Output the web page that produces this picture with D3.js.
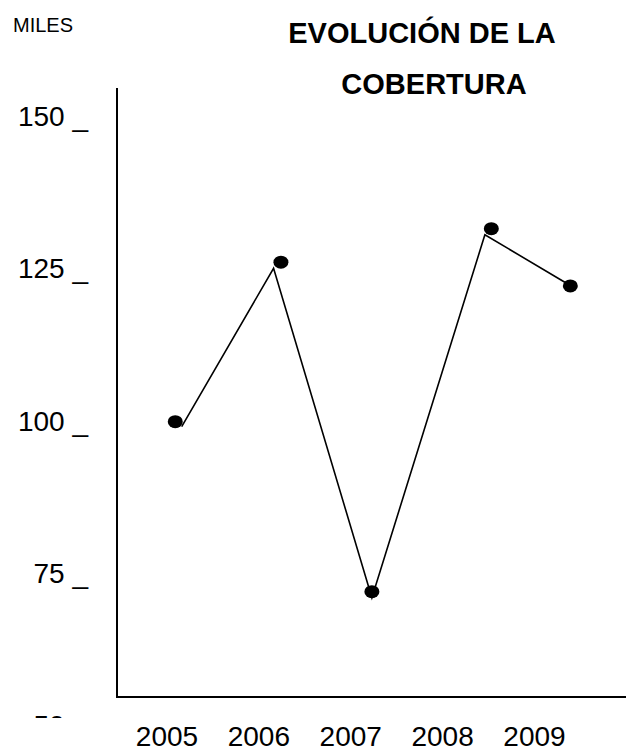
<!DOCTYPE html>
<html>
<head>
<meta charset="utf-8">
<script src="https://cdn.jsdelivr.net/npm/d3@7"></script>
<style>
  body { margin: 0; background: #fff; }
  text { font-family: "Liberation Sans", Arial, sans-serif; fill: #000; }
</style>
</head>
<body>
<div id="chart"></div>
<script>
// values (miles)
const years = [2005, 2006, 2007, 2008, 2009];
const yTicks = [150, 125, 100, 75, 50];
// the dots and the line were placed a bit apart in the original, so each has its own positions
const dotPos = [2005.09, 2006.24, 2007.23, 2008.53, 2009.39];
const dotValues = [99.8, 126.0, 71.9, 131.5, 122.1];
const linePos = [2005.16, 2006.16, 2007.23, 2008.46, 2009.33];
const lineValues = [99.0, 125.0, 70.9, 130.5, 122.7];
const titleLines = ['EVOLUCIÓN DE LA', 'COBERTURA'];

const width = 626, height = 752;
const axisX = 117, axisTop = 88, axisBottom = 697;

const x = d3.scaleLinear().domain([2005, 2009]).range([167, 534.5]);
const y = d3.scaleLinear().domain([50, 150]).range([725, 116]);

const svg = d3.select('#chart').append('svg')
    .attr('width', width)
    .attr('height', height);

svg.append('text')
    .attr('x', 13).attr('y', 32)
    .style('font-size', '20px')
    .text('MILES');

svg.append('g')
    .selectAll('text').data(titleLines)
    .enter()
    .append('text')
    .attr('x', (d, i) => i ? 434 : 422)
    .attr('y', (d, i) => 43 + i * 51)
    .attr('text-anchor', 'middle')
    .style('font-size', '29px')
    .style('font-weight', 'bold')
    .text(d => d);

// the lowest tick label is cut off in the original, only its top edge shows
svg.append('clipPath').attr('id', 'tickClip')
    .append('rect')
    .attr('x', 0).attr('y', 0)
    .attr('width', axisX).attr('height', y(50) - 7);

svg.append('g')
    .attr('clip-path', 'url(#tickClip)')
    .selectAll('text').data(yTicks)
    .enter()
    .append('text')
    .attr('x', 88)
    .attr('y', d => y(d) + 10)
    .attr('text-anchor', 'end')
    .style('font-size', '28px')
    .text(d => d + ' _');

// axes
svg.append('line')
    .attr('x1', axisX).attr('y1', axisTop)
    .attr('x2', axisX).attr('y2', axisBottom)
    .attr('stroke', '#000').attr('stroke-width', 2);
svg.append('line')
    .attr('x1', axisX - 1).attr('y1', axisBottom)
    .attr('x2', width).attr('y2', axisBottom)
    .attr('stroke', '#000').attr('stroke-width', 2);

svg.append('g')
    .selectAll('text').data(years)
    .enter()
    .append('text')
    .attr('x', d => x(d))
    .attr('y', 746)
    .attr('text-anchor', 'middle')
    .style('font-size', '28px')
    .text(d => d);

const line = d3.line()
    .x((d, i) => x(linePos[i]))
    .y(d => y(d));

svg.append('path')
    .datum(lineValues)
    .attr('d', line)
    .attr('fill', 'none')
    .attr('stroke', '#000')
    .attr('stroke-width', 1.6);

svg.append('g')
    .selectAll('ellipse').data(dotValues)
    .enter()
    .append('ellipse')
    .attr('cx', (d, i) => x(dotPos[i]))
    .attr('cy', d => y(d))
    .attr('rx', 7.5)
    .attr('ry', 6.5)
    .attr('fill', '#000');
</script>
</body>
</html>
